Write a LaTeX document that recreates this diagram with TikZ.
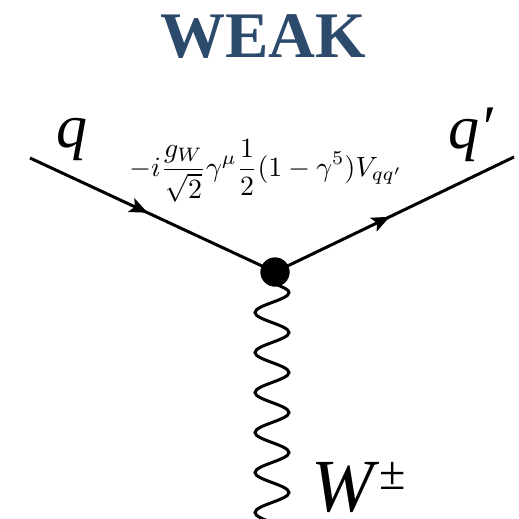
\documentclass[tikz,border=0pt]{standalone}
\usepackage{fontspec}
\usepackage{graphicx}
\setmainfont{Liberation Serif}
\usetikzlibrary{decorations.pathmorphing,decorations.markings,arrows.meta}
\definecolor{titleblue}{HTML}{2C4A6B}
\tikzset{
  fermion/.style={line width=3pt, postaction={decorate},
    decoration={markings, mark=at position 0.48 with {\arrow{Stealth[length=18pt,width=15pt,inset=4pt]}}}},
  boson/.style={line width=3pt, line cap=round, decorate,
    decoration={snake, segment length=40pt, amplitude=17pt}},
  vertexdot/.style={circle, fill=black, minimum size=29pt, inner sep=0pt},
  lbl/.style={inner sep=0pt, anchor=base}
}
\begin{document}
\begin{tikzpicture}[x=1pt,y=-1pt]
\useasboundingbox (0,0) rectangle (519,519);
\clip (0,0) rectangle (519,519);
\node[lbl, text=titleblue, font=\fontsize{65}{70}\selectfont\bfseries] (title) at (263,57) {WEAK};
\coordinate (qin) at (30,158);
\coordinate (qout) at (514,157);
\coordinate (wtop) at (272,280);
\coordinate (wend) at (272,560);
\node[vertexdot] (v) at (275,272) {};
\draw[fermion] (qin) -- (v.center);
\draw[fermion] (v.center) -- (qout);
\draw[line width=3pt] (v.center) -- (wtop);
\draw[boson] (wtop) -- (wend);
\node[vertexdot] at (v.center) {};
\node[lbl, font=\fontsize{62}{66}\selectfont\itshape] (q) at (72,147) {q};
\node[lbl, font=\fontsize{62}{66}\selectfont\itshape] (qp) at (471,148) {q′};
\node[lbl, font=\fontsize{75}{80}\selectfont] (W) at (359,511) {\textit{W}\raisebox{22pt}{\fontsize{48}{50}\selectfont ±}};
\node[inner sep=0pt] (rule) at (266,171)
  {\resizebox{273pt}{!}{$\displaystyle -i\frac{g_W}{\sqrt{2}}\gamma^\mu\frac{1}{2}(1-\gamma^5)V_{qq'}$}};
\end{tikzpicture}
\end{document}
